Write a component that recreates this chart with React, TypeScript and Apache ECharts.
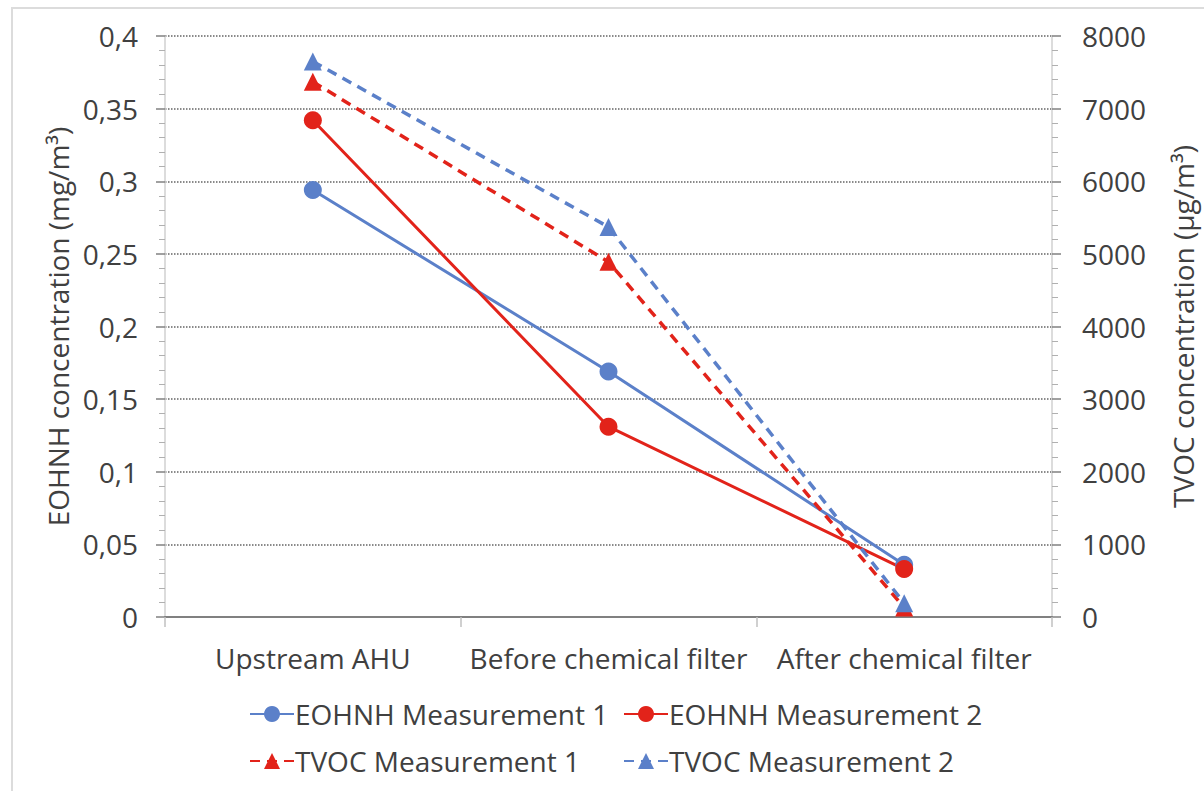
import React, { useEffect, useRef } from "react";
import * as echarts from "echarts";

const categories = ["Upstream AHU", "Before chemical filter", "After chemical filter"];
const eohnhM1 = [0.294, 0.169, 0.036];
const eohnhM2 = [0.342, 0.131, 0.033];
const tvocM1 = [7370, 4890, 130];
const tvocM2 = [7650, 5370, 190];
const leftTicks = { min: 0, max: 0.4, interval: 0.05 };
const rightTicks = { min: 0, max: 8000, interval: 1000 };

const BLUE = "#5b80c9";
const RED = "#e2231a";
const TXT = "#404040";
const FONT = "Open Sans";

export default function App() {
  const ref = useRef<HTMLDivElement>(null);
  useEffect(() => {
    document.body.style.margin = "0";
    const chart = echarts.init(ref.current!, null, { renderer: "svg" });
    const yCommon = {
      type: "value",
      axisLine: { show: true, lineStyle: { color: "#d0d0d0", width: 1.5 } },
      axisTick: { show: true, inside: false, length: 9, lineStyle: { color: "#808080", width: 1.5 } },
      minorTick: { show: true, splitNumber: 5, length: 6, lineStyle: { color: "#b0b0b0" } },
      nameLocation: "middle",
      nameRotate: 90,
      nameMoveOverlap: false,
      nameTextStyle: { color: TXT, fontSize: 28, fontFamily: FONT },
    };
    const legendText = { color: TXT, fontSize: 28, fontFamily: FONT, padding: [0, 0, 0, -4] };
    chart.setOption({
      animation: false,
      backgroundColor: "#ffffff",
      textStyle: { fontFamily: FONT },
      graphic: [
        {
          type: "rect",
          shape: { x: 12, y: 8, width: 1300, height: 900 },
          style: { fill: "none", stroke: "#dcdcdc", lineWidth: 2 },
          silent: true,
        },
      ],
      grid: { left: 165, right: 152, top: 36, bottom: 174, containLabel: false, outerBoundsMode: "none" },
      xAxis: {
        type: "category",
        data: categories,
        boundaryGap: true,
        axisLine: { lineStyle: { color: "#808080", width: 2 } },
        axisTick: { show: true, alignWithLabel: false, length: 10, lineStyle: { color: "#c0c0c0", width: 1.5 } },
        axisLabel: { color: TXT, fontSize: 28, fontFamily: FONT, margin: 27, interval: 0, hideOverlap: false },
      },
      yAxis: [
        {
          ...yCommon,
          position: "left",
          ...leftTicks,
          name: "EOHNH concentration (mg/m³)",
          nameGap: 93,
          axisLabel: {
            color: TXT,
            fontSize: 28,
            fontFamily: FONT,
            margin: 27,
            formatter: (v: number) => String(Math.round(v * 100) / 100).replace(".", ","),
          },
          splitLine: { show: true, lineStyle: { color: "#8a8a8a", width: 2, type: [1.5, 1.5] } },
        },
        {
          ...yCommon,
          position: "right",
          ...rightTicks,
          name: "TVOC concentration (µg/m³)",
          nameGap: 117,
          axisLabel: { color: TXT, fontSize: 28, fontFamily: FONT, margin: 30, formatter: (v: number) => String(v) },
          splitLine: { show: false },
        },
      ],
      legend: [
        {
          data: ["EOHNH Measurement 1", "TVOC Measurement 1"],
          orient: "vertical",
          left: 244,
          top: 695,
          itemWidth: 44,
          itemHeight: 20,
          itemGap: 19,
          textStyle: legendText,
        },
        {
          data: ["EOHNH Measurement 2", "TVOC Measurement 2"],
          orient: "vertical",
          left: 618,
          top: 695,
          itemWidth: 44,
          itemHeight: 20,
          itemGap: 19,
          textStyle: legendText,
        },
      ],
      series: [
        {
          name: "EOHNH Measurement 1",
          type: "line",
          yAxisIndex: 0,
          data: eohnhM1,
          symbol: "circle",
          symbolSize: 18,
          itemStyle: { color: BLUE },
          lineStyle: { color: BLUE, width: 3 },
        },
        {
          name: "EOHNH Measurement 2",
          type: "line",
          yAxisIndex: 0,
          data: eohnhM2,
          symbol: "circle",
          symbolSize: 18,
          itemStyle: { color: RED },
          lineStyle: { color: RED, width: 3 },
        },
        {
          name: "TVOC Measurement 1",
          type: "line",
          yAxisIndex: 1,
          data: tvocM1,
          symbol: "triangle",
          symbolSize: 18,
          itemStyle: { color: RED },
          lineStyle: { color: RED, width: 3.5, type: [10, 7] },
        },
        {
          name: "TVOC Measurement 2",
          type: "line",
          yAxisIndex: 1,
          data: tvocM2,
          symbol: "triangle",
          symbolSize: 18,
          itemStyle: { color: BLUE },
          lineStyle: { color: BLUE, width: 3.5, type: [10, 7] },
        },
      ],
    });
    return () => chart.dispose();
  }, []);
  return <div ref={ref} style={{ width: 1204, height: 791 }} />;
}
